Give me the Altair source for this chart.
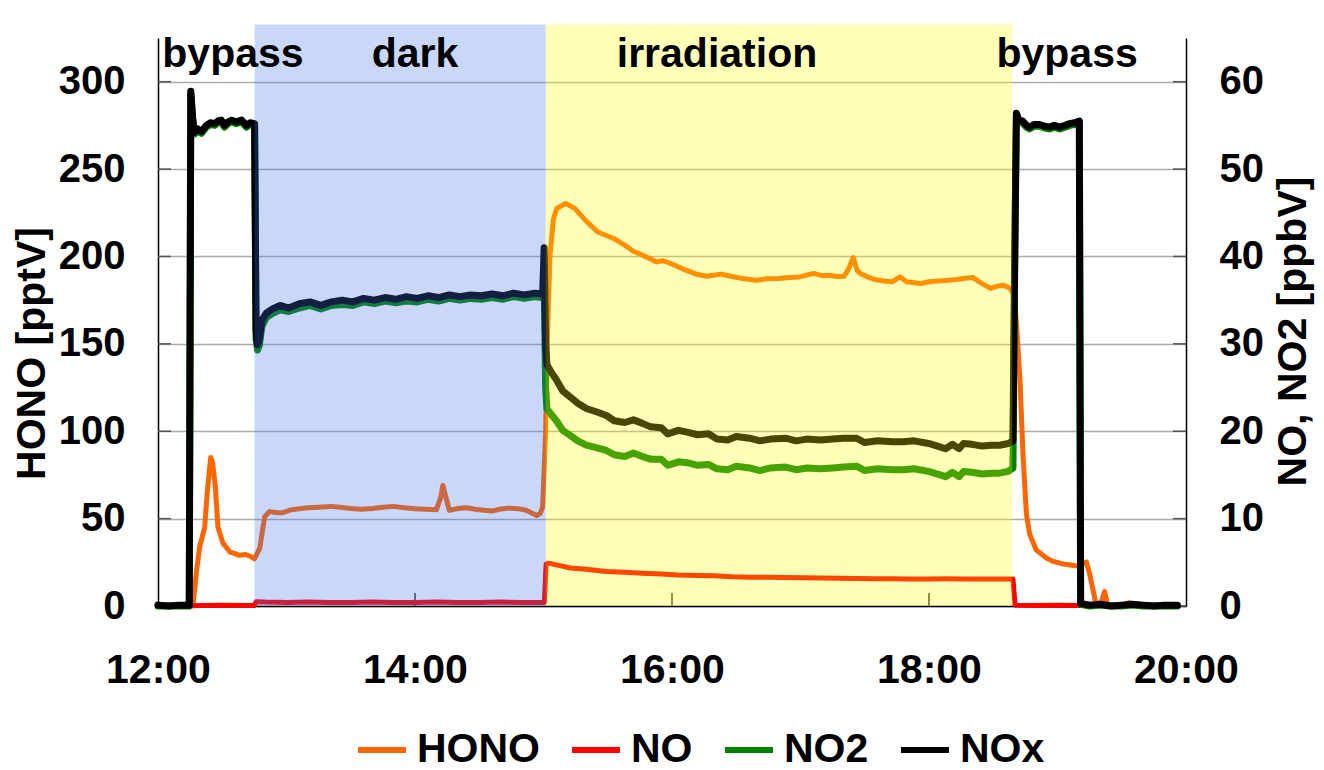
import altair as alt
import pandas as pd

# ---------------- data (minutes after 12:00) ----------------
SERIES = ["HONO", "NO", "NO2", "NOx"]
COLORS = ["#FF6600", "#FF0000", "#008000", "#000000"]

hono_t = [16, 16.5, 18, 19.5, 21.8, 23, 24.6, 25.5, 26.8, 28,
          30.3, 33.5, 36, 38, 41, 43, 45, 47.5, 49.8, 52,
          55, 58, 62, 66, 70, 75, 81, 86, 90, 95,
          100, 105, 110, 115, 120, 125, 130, 132, 133, 134.5,
          136, 140, 144, 148, 152, 156, 160, 164, 168, 172,
          176.8, 178.5, 179.6, 181, 182, 183, 184.6, 186.2, 190.4, 194.6,
          199.5, 205.3, 212.8, 217.9, 222, 226.3, 232.8, 236, 239.4, 246.4,
          251, 256.2, 262.9, 268, 273, 279.5, 284, 289.6, 295, 299.6,
          306.1, 310, 313, 317, 320.4, 322.5, 324.6, 326.5, 327.9, 331,
          334.6, 339, 343, 346.3, 349.6, 353, 356.3, 360, 364.5, 368,
          372.9, 377, 380.4, 384, 388.8, 392, 394.7, 398, 400, 402.4,
          403.9, 405.5, 407, 410.1, 414.8, 418, 422.4, 426, 429.4, 433.5,
          435, 438.1, 440.5, 442, 443.4, 446, 450, 453.5, 456, 462,
          468, 476]
hono_v = [0, 2, 20, 34, 45, 65, 85, 82, 68, 45,
          36, 31, 30, 29, 29.5, 28.5, 27, 33, 51, 54,
          53.5, 53.3, 55, 55.7, 56.2, 56.5, 57, 56.4, 55.8, 55.3,
          55.8, 56.5, 57, 56.2, 55.6, 55.4, 55.1, 62, 69, 62,
          54.7, 55.8, 56.2, 55.4, 54.8, 54.3, 55.5, 56, 55.7, 54.8,
          51.8, 53, 56.6, 100, 160, 200, 221, 227.5, 230.3, 227.5,
          220.8, 214, 210.3, 206.5, 203, 200.7, 196.9, 197.5, 196, 192.2,
          190, 188.7, 189.9, 188.5, 187.4, 186.4, 187.2, 187.4, 188, 188.3,
          190.3, 189, 189.3, 188.5, 188.7, 193, 199.4, 192, 190.3, 188.5,
          186.8, 186, 185.5, 188.3, 185.5, 185, 184.5, 185.5, 186, 186.3,
          186.8, 187.5, 188, 185, 181.7, 183, 183.6, 181.7, 176.9, 131.6,
          86.3, 52.4, 41.1, 32, 27.5, 25.5, 24.1, 23.5, 22.9, 25.2,
          18.4, 0.3, 2.6, 8.3, 0.5, 0, 0.5, 2, 0.3, 0,
          0.5, 0]

no_t = [0, 10, 20, 30, 40, 45.0, 45.8, 50, 60, 70, 80, 90, 100, 110, 120, 130,
        140, 150, 160, 170, 180.4, 181.2, 182.5, 186, 192.6, 200, 209.4, 218,
        226.2, 235, 243, 252, 259.4, 268, 276.2, 285, 293, 301, 309.4, 318,
        326.2, 335, 343, 351, 359.8, 368, 376.1, 384, 392.9, 399.2, 400.2, 410,
        420, 430, 440, 450, 460, 470, 476]
no_v = [0.05, 0.0, 0.05, 0.1, 0.05, 0.05, 0.5, 0.45, 0.4, 0.45, 0.4, 0.4, 0.45,
        0.4, 0.4, 0.45, 0.4, 0.4, 0.45, 0.4, 0.4, 4.8, 4.9, 4.7, 4.35, 4.2, 3.95,
        3.85, 3.75, 3.65, 3.55, 3.5, 3.45, 3.35, 3.3, 3.28, 3.25, 3.22, 3.2, 3.18,
        3.15, 3.13, 3.12, 3.1, 3.1, 3.12, 3.1, 3.08, 3.1, 3.1, 0.1, 0.05, 0.1,
        0.05, 0.1, 0.05, 0.05, 0.1, 0.05]

nox_t = [0, 5, 10, 14.6, 15.3, 16.2, 17.0, 18.5, 20.3, 22.6, 24.5, 26.5, 28,
         29.6, 31, 32.7, 34.5, 36.6, 39, 41.3, 43, 45.1, 45.8, 46.5, 47.3, 48.5,
         50.5, 53.5, 57, 61, 66, 71, 76, 81, 86, 91, 96, 101, 106, 111, 116, 121,
         126, 131, 136, 141, 146, 151, 156, 161, 166, 171, 176, 179.6, 180.3,
         181.0, 181.6, 184, 186, 189, 192.6, 196, 200, 205, 209.4, 213, 218, 222,
         226.2, 230, 235, 238, 243, 247, 252, 257, 261, 266, 270, 276.2, 281, 286,
         293, 298, 303, 309.4, 315, 320, 326.2, 330, 336, 343, 348, 353, 359.8,
         364, 367.7, 371, 374, 376.1, 380, 385, 389, 392.9, 397, 399.2, 400.0,
         400.8, 402, 403.7, 405.5, 407, 409, 411.7, 414, 416.3, 418.5, 421, 423.5,
         425.7, 428, 430.2, 430.8, 435, 440, 445, 450, 455, 460, 465, 470, 476]
nox_v = [0.1, 0.0, 0.1, 0.1, 58.9, 55.8, 54.2, 54.6, 54.3, 55.0, 55.3, 55.2, 55.5,
         55.6, 55.0, 55.4, 55.6, 55.4, 55.6, 55.0, 55.3, 55.2, 31.5, 29.9, 30.4, 32.7,
         33.5, 34.0, 34.4, 34.1, 34.6, 34.8, 34.4, 34.8, 35.0, 34.8, 35.2, 35.0, 35.3,
         35.1, 35.4, 35.2, 35.5, 35.3, 35.6, 35.4, 35.6, 35.5, 35.7, 35.5, 35.8, 35.6,
         35.8, 35.7, 41.0, 30.0, 27.6, 26.6, 25.9, 24.6, 23.9, 23.2, 22.6, 22.2, 21.8,
         21.2, 21.0, 21.3, 20.9, 20.5, 20.4, 19.7, 20.1, 19.9, 19.6, 19.7, 19.1, 19.0,
         19.4, 19.2, 18.9, 19.1, 19.2, 18.9, 19.1, 19.0, 19.1, 19.2, 19.2, 18.7, 18.9,
         18.8, 18.8, 18.9, 18.6, 18.3, 18.0, 18.5, 18.0, 18.6, 18.5, 18.3, 18.4, 18.4,
         18.6, 18.9, 40.0, 56.4, 55.6, 55.5, 55.0, 54.8, 55.1, 55.1, 54.9, 54.8, 55.0,
         54.8, 55.0, 55.2, 55.3, 55.5, 0.3, 0.1, 0.2, 0.0, 0.1, 0.2, 0.1, 0.0, 0.1, 0.1]
no2_v = [0, 0, 0, 0, 58.6, 55.6, 54.0, 54.4, 54.1, 54.8, 55.1, 55.0, 55.3,
         55.4, 54.8, 55.2, 55.4, 55.2, 55.4, 54.8, 55.1, 55.0, 30.5, 29.3, 29.8, 32.0,
         33.0, 33.5, 33.9, 33.7, 34.1, 34.4, 34.0, 34.4, 34.5, 34.4, 34.8, 34.6, 34.9,
         34.7, 34.9, 34.8, 35.1, 34.9, 35.2, 35.0, 35.2, 35.1, 35.3, 35.1, 35.4, 35.2,
         35.4, 35.3, 37.0, 25.0, 22.6, 21.8, 21.2, 20.1, 19.5, 18.9, 18.4, 18.1, 17.8,
         17.3, 17.1, 17.5, 17.1, 16.8, 16.8, 16.1, 16.5, 16.4, 16.1, 16.2, 15.7, 15.6,
         16.0, 15.8, 15.5, 15.8, 15.9, 15.6, 15.8, 15.7, 15.8, 15.9, 16.0, 15.5, 15.7,
         15.6, 15.6, 15.7, 15.4, 15.1, 14.8, 15.3, 14.8, 15.4, 15.3, 15.1, 15.2, 15.2,
         15.4, 15.8, 38.0, 56.2, 55.4, 55.3, 54.8, 54.6, 54.9, 54.9, 54.7, 54.6, 54.8,
         54.6, 54.8, 55.0, 55.1, 55.3, 0.2, 0.0, 0.1, 0.0, 0.0, 0.1, 0.0, 0.0, 0.0, 0.0]

x_tick_values = [0, 120, 240, 360, 480]
x_tick_labels = ["12:00", "14:00", "16:00", "18:00", "20:00"]
left_ticks = [0, 50, 100, 150, 200, 250, 300]
right_ticks = [0, 10, 20, 30, 40, 50, 60]

phase_start = [45.1, 181.0]
phase_end = [181.0, 398.9]
phase_fill = ["#3C6EEB", "#FFFF00"]

label_text = ["bypass", "dark", "irradiation", "bypass"]
label_t = [35, 120, 261, 424.5]

# ---------------- tables ----------------
def frame(name, t, v):
    assert len(t) == len(v), name
    return pd.DataFrame({"series": name, "t": t, "v": v})

df = pd.concat([frame("HONO", hono_t, hono_v), frame("NO", no_t, no_v),
                frame("NO2", nox_t, no2_v), frame("NOx", nox_t, nox_v)],
               ignore_index=True)
phase_df = pd.DataFrame({"s": phase_start, "e": phase_end, "c": phase_fill})
label_df = pd.DataFrame({"label": label_text, "t": label_t})
ytick_df = pd.DataFrame({"tv": left_ticks})
xtick_df = pd.DataFrame({"t": x_tick_values[1:-1]})

# ---------------- styling ----------------
W, H = 1028, 568
FONT = "Liberation Sans"

lbl_expr = " : ".join(f"datum.value == {v} ? '{l}'" for v, l in zip(x_tick_values, x_tick_labels)) + " : ''"
x_axis = alt.Axis(values=x_tick_values, labelExpr=lbl_expr, title=None, grid=False,
                  ticks=False, tickSize=0, domainColor="black", domainWidth=1.5,
                  labelFont=FONT, labelFontSize=41, labelFontWeight="bold",
                  labelColor="black", labelPadding=44, labelAngle=0,
                  labelFlush=False, labelOverlap=False)
x_scale = alt.Scale(domain=[0, 480], nice=False, zero=False)

left_axis = alt.Axis(values=left_ticks, title="HONO [pptV]", grid=True, gridColor="#ababab",
                     gridWidth=1.5, ticks=False, tickSize=0, domainColor="black", domainWidth=1.5,
                     labelFont=FONT, labelFontSize=40, labelFontWeight="bold", labelColor="black",
                     labelPadding=33, labelFlush=False, titleFont=FONT, titleFontSize=41,
                     titleFontWeight="bold", titleColor="black", titleAngle=270, titleX=-114,
                     titleY=315, titleAlign="center", titleBaseline="alphabetic")
left_scale = alt.Scale(domain=[0, 325], nice=False, zero=True)

right_axis = alt.Axis(orient="right", values=right_ticks, title="NO, NO2 [ppbV]", grid=False,
                      ticks=False, tickSize=0, domainColor="black", domainWidth=1.5,
                      labelFont=FONT, labelFontSize=40, labelFontWeight="bold", labelColor="black",
                      labelPadding=33, labelFlush=False, titleFont=FONT, titleFontSize=41,
                      titleFontWeight="bold", titleColor="black", titleAngle=270, titleX=119,
                      titleY=293, titleAlign="center", titleBaseline="alphabetic")
right_scale = alt.Scale(domain=[0, 65], nice=False, zero=True)

legend = alt.Legend(orient="none", legendX=197, legendY=685, direction="horizontal", columns=4,
                    title=None, symbolType="stroke", symbolSize=2304, symbolStrokeWidth=6,
                    labelFont=FONT, labelFontSize=41, labelFontWeight="bold", labelColor="black",
                    labelOffset=8, columnPadding=20, padding=0)
color_enc = alt.Color("series:N", scale=alt.Scale(domain=SERIES, range=COLORS), legend=legend)

x_enc = alt.X("t:Q", scale=x_scale, axis=x_axis)


def line(name, width, scale, axis):
    return alt.Chart(df).transform_filter(alt.datum.series == name).mark_line(
        strokeWidth=width, strokeJoin="round", strokeCap="round"
    ).encode(x=x_enc, y=alt.Y("v:Q", scale=scale, axis=axis), color=color_enc,
             order=alt.Order("t:Q"))


ytick_l = alt.Chart(ytick_df).mark_rule(color="#555555", strokeWidth=1.5).encode(
    y=alt.Y("tv:Q", scale=left_scale, axis=left_axis), x=alt.value(0), x2=alt.value(13))
ytick_r = alt.Chart(ytick_df).mark_rule(color="#555555", strokeWidth=1.5).encode(
    y=alt.Y("tv:Q", scale=left_scale, axis=left_axis), x=alt.value(W - 13), x2=alt.value(W))
xtick = alt.Chart(xtick_df).mark_rule(color="#333333", strokeWidth=1.5).encode(
    x=x_enc, y=alt.value(H), y2=alt.value(H - 13))

left_group = alt.layer(ytick_l, ytick_r, xtick, line("HONO", 5, left_scale, left_axis))
right_group = alt.layer(line("NO", 5, right_scale, right_axis),
                        line("NO2", 7, right_scale, right_axis),
                        line("NOx", 7, right_scale, right_axis))

shades = alt.Chart(phase_df).mark_rect(opacity=0.28).encode(
    x=alt.X("s:Q", scale=x_scale, axis=x_axis), x2="e:Q", y=alt.value(-13.5), y2=alt.value(H),
    fill=alt.Fill("c:N", scale=None))

texts = alt.Chart(label_df).mark_text(font=FONT, fontSize=41, fontWeight="bold", color="black",
                                      baseline="alphabetic", align="center").encode(
    x=x_enc, y=alt.value(29), text="label:N")

chart = alt.layer(left_group, right_group, shades, texts).resolve_scale(
    y="independent"
).properties(
    width=W, height=H,
    padding={"left": 150, "top": 30, "right": 130, "bottom": 164},
    autosize=alt.AutoSizeParams(type="none"),
).configure_view(stroke=None)

chart.save("out.html", embed_options={"renderer": "svg", "actions": False})
